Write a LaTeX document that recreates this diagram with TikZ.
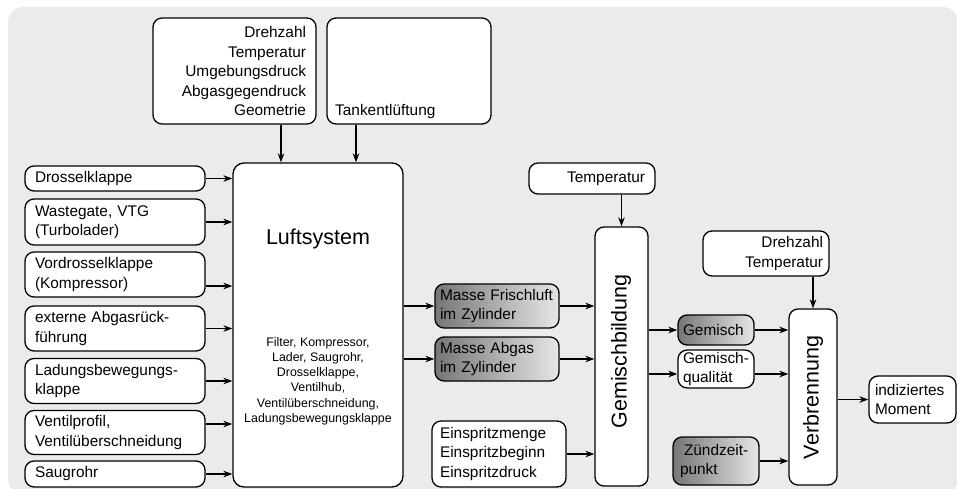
\documentclass[tikz,border=0pt]{standalone}
\usepackage{fontspec}
\setmainfont{Liberation Sans}
\usetikzlibrary{arrows.meta}
\definecolor{bggray}{HTML}{EBEBEB}
\definecolor{gdark}{HTML}{767676}
\definecolor{glight}{HTML}{E6E6E6}
\begin{document}
\begin{tikzpicture}[x=1pt,y=-1pt,
  bx/.style={draw=black, line width=1.3pt, rounded corners=9pt, fill=white,
    font=\fontsize{15.4}{19.5}\selectfont, inner ysep=2pt},
  gx/.style={bx, left color=gdark, right color=glight},
  lb/.style={bx, text width=160pt, inner xsep=10pt, align=left},
  big/.style={font=\fontsize{21.5}{26}\selectfont, inner sep=0pt},
  arr/.style={line width=1.7pt, -{Stealth[length=9pt,width=6.5pt,inset=3pt]}}]
\useasboundingbox (0,0) rectangle (957,489);
\clip (0,0) rectangle (957,489);
\fill[bggray, rounded corners=15pt] (8,7) rectangle (958,494);

% top boxes
\node[bx, text width=143pt, inner xsep=10pt, align=right, minimum height=106pt] (top1) at (234.5,71)
  {Drehzahl\\Temperatur\\Umgebungsdruck\\Abgasgegendruck\\Geometrie};
\node[bx, minimum width=164pt, minimum height=106pt] (top2) at (409,71) {};
\node[font=\fontsize{15.4}{19.5}\selectfont, anchor=base west, inner sep=0pt] (tank) at (335,116) {Tankentlüftung};

% Luftsystem
\node[bx, rounded corners=11pt, minimum width=170pt, minimum height=324pt] (luft) at (318,325) {};
\node[big] (lufttitle) at (318,239) {Luftsystem};
\node[font=\fontsize{12.4}{15.2}\selectfont, align=center] (luftsub) at (318,381)
  {Filter, Kompressor,\\Lader, Saugrohr,\\Drosselklappe,\\Ventilhub,\\Ventilüberschneidung,\\Ladungsbewegungsklappe};

% left inputs
\node[lb, minimum height=25pt] (drossel) at (115,178.5) {Drosselklappe};
\node[lb, minimum height=46pt] (waste) at (115,222) {Wastegate, VTG\\(Turbolader)};
\node[lb, minimum height=45pt] (vord) at (115,274.5) {Vordrosselklappe\\(Kompressor)};
\node[lb, minimum height=45pt] (egr) at (115,328.5) {externe Abgasrück-\\führung};
\node[lb, minimum height=45pt] (ladung) at (115,381) {Ladungsbewegungs-\\klappe};
\node[lb, minimum height=44pt] (ventil) at (115,432.5) {Ventilprofil,\\Ventilüberschneidung};
\node[lb, minimum height=26pt] (saug) at (115,474) {Saugrohr};

% masses
\node[gx, text width=114pt, inner xsep=5pt, align=left, minimum height=44pt] (frisch) at (497,306) {Masse Frischluft\\im Zylinder};
\node[gx, text width=114pt, inner xsep=5pt, align=left, minimum height=44pt] (abgas) at (497,359) {Masse Abgas\\im Zylinder};

% Gemischbildung
\node[bx, minimum width=53pt, minimum height=259pt] (gem) at (621.5,356.5) {};
\node[big, rotate=90] (gemt) at (621,351.5) {Gemischbildung};
\node[bx, text width=106pt, inner xsep=10pt, align=right, minimum height=31pt] (temp) at (592,178.5) {Temperatur};
\node[bx, text width=118pt, inner xsep=8pt, align=left, minimum height=66pt] (einsp) at (499,454) {Einspritzmenge\\Einspritzbeginn\\Einspritzdruck};

% Verbrennung
\node[gx, text width=66pt, inner xsep=5pt, align=left, minimum height=30pt] (gemisch) at (716,330) {Gemisch};
\node[bx, text width=66pt, inner xsep=5pt, align=left, minimum height=36pt] (qual) at (716,369) {Gemisch-\\qualität};
\node[gx, text width=72pt, inner xsep=7pt, align=left, minimum height=48pt] (zuend) at (716,461) {\hspace*{4pt}Zündzeit-\\punkt};
\node[bx, minimum width=48pt, minimum height=176pt] (verb) at (813,397) {};
\node[big, rotate=90] (verbt) at (813,397.5) {Verbrennung};
\node[bx, text width=114pt, inner xsep=6pt, align=right, minimum height=45pt] (dreh) at (766,253.5) {Drehzahl\\Temperatur};
\node[bx, text width=75pt, inner xsep=6pt, align=left, minimum height=47pt] (moment) at (912.5,399.5) {indiziertes\\Moment};

% connectors
\coordinate (xa) at (281,0);
\coordinate (xb) at (356,0);
\coordinate (yv) at (0,286);
\coordinate (yp) at (0,424);
\coordinate (yq) at (0,374);
\draw[arr] (top1.south -| xa) -- (luft.north -| xa);
\draw[arr] (top2.south -| xb) -- (luft.north -| xb);
\foreach \n in {drossel,waste,egr,ladung,saug}
  \draw[arr] (\n.east) -- (luft.west |- \n.east);
\draw[arr] (vord.east |- yv) -- (luft.west |- yv);
\draw[arr] (ventil.east |- yp) -- (luft.west |- yp);
\draw[arr] (luft.east |- frisch.west) -- (frisch.west);
\draw[arr] (luft.east |- abgas.west) -- (abgas.west);
\draw[arr] (frisch.east) -- (gem.west |- frisch.east);
\draw[arr] (abgas.east) -- (gem.west |- abgas.east);
\draw[arr] (einsp.east) -- (gem.west |- einsp.east);
\draw[arr] (temp.south -| gem.north) -- (gem.north);
\draw[arr] (gem.east |- gemisch.west) -- (gemisch.west);
\draw[arr] (gem.east |- yq) -- (qual.west |- yq);
\draw[arr] (gemisch.east) -- (verb.west |- gemisch.east);
\draw[arr] (qual.east |- yq) -- (verb.west |- yq);
\draw[arr] (zuend.east) -- (verb.west |- zuend.east);
\draw[arr] (dreh.south -| verb.north) -- (verb.north);
\draw[arr] (verb.east |- moment.west) -- (moment.west);
\end{tikzpicture}
\end{document}
